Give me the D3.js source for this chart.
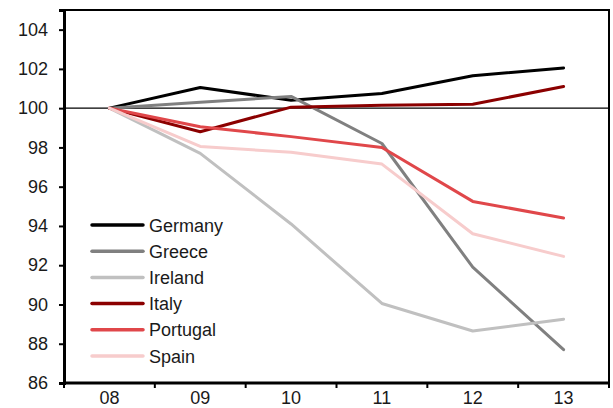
<!DOCTYPE html>
<html>
<head>
<meta charset="utf-8">
<script src="https://cdn.jsdelivr.net/npm/d3@7"></script>
<style>
  html, body { margin: 0; padding: 0; background: #fff; }
  svg { display: block; }
  text { font-family: "Liberation Sans", Arial, sans-serif; fill: #1a1a1a; }
</style>
</head>
<body>
<svg id="chart" width="613" height="408"></svg>
<script>
// Index levels, 2008 = 100
const years = ["08", "09", "10", "11", "12", "13"];
const countries = ["Germany", "Greece", "Ireland", "Italy", "Portugal", "Spain"];
const germany  = [100, 101.05, 100.4, 100.75, 101.65, 102.05];
const greece   = [100, 100.3, 100.6, 98.2, 91.9, 87.7];
const ireland  = [100, 97.7, 94.1, 90.05, 88.65, 89.25];
const italy    = [100, 98.8, 100.05, 100.15, 100.2, 101.1];
const portugal = [100, 99.05, 98.55, 98.0, 95.25, 94.4];
const spain    = [100, 98.05, 97.75, 97.15, 93.6, 92.45];
const yTicks   = [86, 88, 90, 92, 94, 96, 98, 100, 102, 104];

const seriesValues = [germany, greece, ireland, italy, portugal, spain];
const colors = ["#000000", "#808080", "#c0c0c0", "#8b0000", "#e0474a", "#f7cccc"];

const svg = d3.select("#chart");
const plotL = 64, plotR = 609, plotT = 10, plotB = 383;
const fontSize = "18px";

const x = d3.scaleBand().domain(years).range([plotL, plotR]).padding(0);
const y = d3.scaleLinear().domain([86, 105]).range([plotB, plotT]);

// Reference line at 100
svg.append("line")
  .attr("x1", plotL).attr("x2", plotR)
  .attr("y1", y(100)).attr("y2", y(100))
  .attr("stroke", "#000").attr("stroke-width", 1.2);

// Series lines
const line = d3.line()
  .x((d, i) => x(years[i]) + x.bandwidth() / 2)
  .y(d => y(d));

seriesValues.forEach((vals, k) => {
  svg.append("path")
    .datum(vals)
    .attr("d", line)
    .attr("fill", "none")
    .attr("stroke", colors[k])
    .attr("stroke-width", 3)
    .attr("stroke-linejoin", "round")
    .attr("stroke-linecap", "round");
});

// Frame
svg.append("rect")
  .attr("x", plotL).attr("y", plotT)
  .attr("width", plotR - plotL).attr("height", plotB - plotT)
  .attr("fill", "none").attr("stroke", "#000").attr("stroke-width", 2);

// Y axis
const yAxis = svg.append("g")
  .attr("transform", `translate(${plotL},0)`)
  .call(d3.axisLeft(y).tickValues(yTicks).tickSize(5).tickPadding(11));
yAxis.select(".domain").attr("stroke-width", 3);
yAxis.selectAll(".tick line").attr("stroke-width", 2);
yAxis.selectAll("text").style("font-size", fontSize).attr("fill", "#1a1a1a");

// X axis: ticks on band boundaries, labels centred in bands
const xAxis = svg.append("g").attr("transform", `translate(0,${plotB})`);
xAxis.append("line")
  .attr("x1", plotL - 1).attr("x2", plotR + 1)
  .attr("stroke", "#000").attr("stroke-width", 3);
xAxis.selectAll("line.tk")
  .data(years.concat(["end"]))
  .join("line")
  .attr("class", "tk")
  .attr("x1", (d, i) => plotL + i * x.bandwidth())
  .attr("x2", (d, i) => plotL + i * x.bandwidth())
  .attr("y1", 0).attr("y2", 5)
  .attr("stroke", "#000").attr("stroke-width", 2);
xAxis.selectAll("text")
  .data(years)
  .join("text")
  .attr("x", d => x(d) + x.bandwidth() / 2)
  .attr("y", 21)
  .attr("text-anchor", "middle")
  .style("font-size", fontSize)
  .text(d => d);

// Legend
const legend = svg.append("g").attr("transform", "translate(92,225)");
countries.forEach((c, k) => {
  const g = legend.append("g").attr("transform", `translate(0,${k * 26.2})`);
  g.append("line")
    .attr("x1", 0).attr("x2", 51)
    .attr("stroke", colors[k]).attr("stroke-width", 3.5)
    .attr("stroke-linecap", "round");
  g.append("text")
    .attr("x", 57).attr("y", 6.5)
    .style("font-size", fontSize)
    .text(c);
});
</script>
</body>
</html>
